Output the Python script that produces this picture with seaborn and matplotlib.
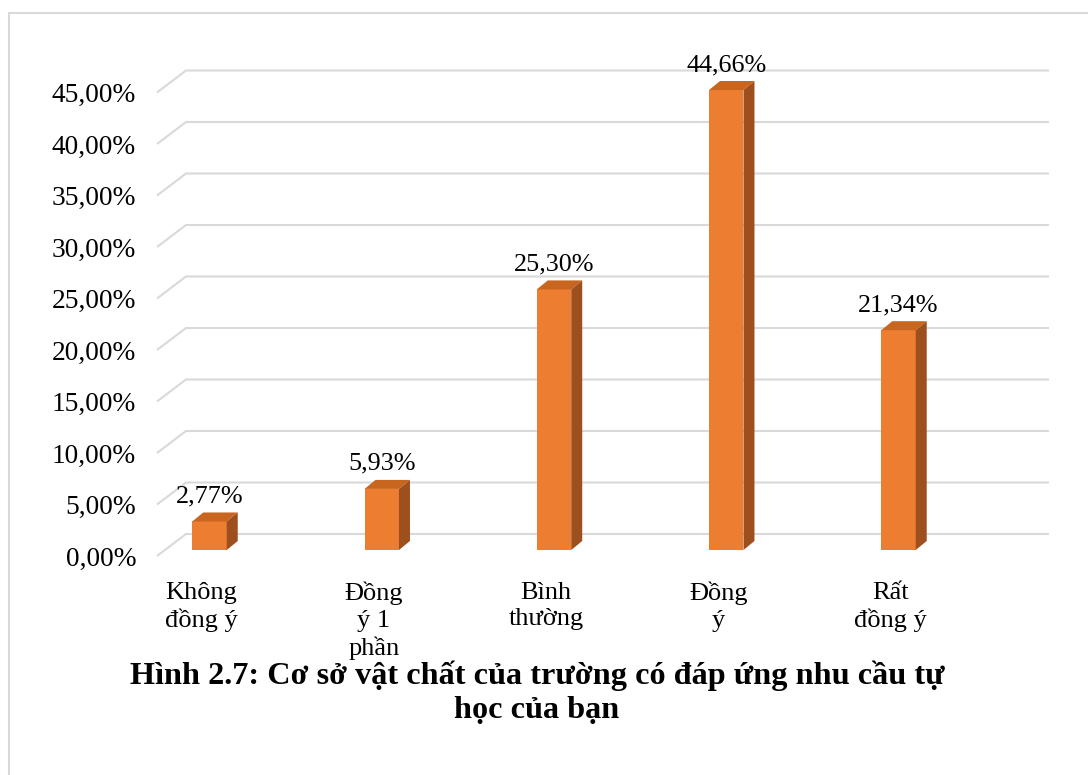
import matplotlib
matplotlib.use("Agg")
import matplotlib.pyplot as plt
import seaborn as sns
import pandas as pd
from matplotlib.patches import Polygon
from matplotlib.lines import Line2D
from matplotlib.transforms import ScaledTranslation

# ---- data ----
categories = ["Không\nđồng ý", "Đồng\ný 1\nphần", "Bình\nthường", "Đồng\ný", "Rất\nđồng ý"]
values = [2.77, 5.93, 25.30, 44.66, 21.34]
value_labels = ["2,77%", "5,93%", "25,30%", "44,66%", "21,34%"]
y_ticks = [0, 5, 10, 15, 20, 25, 30, 35, 40, 45]
y_tick_labels = ["0,00%", "5,00%", "10,00%", "15,00%", "20,00%",
                 "25,00%", "30,00%", "35,00%", "40,00%", "45,00%"]
title = "Hình 2.7: Cơ sở vật chất của trường có đáp ứng nhu cầu tự\nhọc của bạn"

# ---- style ----
sns.set_theme(style="white")
plt.rcParams['font.family'] = ['Liberation Serif', 'DejaVu Serif']

FRONT = "#ED7D31"
TOP = "#C8651F"
SIDE = "#9E4F1E"
GRID = "#D9D9D9"

W, H = 1088, 775
fig = plt.figure(figsize=(W / 100, H / 100), dpi=100)
fig.patch.set_facecolor("white")

# axes = plane of the bars' front faces
ax = fig.add_axes([165 / W, 225 / H, (1049 - 165) / W, (550 - 86.5) / H])
ax.set_facecolor("white")

df = pd.DataFrame({"cat": categories, "val": values})
sns.barplot(data=df, x="cat", y="val", color=FRONT, width=0.2, saturation=1,
            ax=ax, linewidth=0, zorder=3)

x0 = (165 - 209.5) / 172.25
x1 = (1049 - 209.5) / 172.25
ax.set_xlim(x0, x1)
ax.set_ylim(0, 45)
ax.set_xlabel("")
ax.set_ylabel("")
for s in ax.spines.values():
    s.set_visible(False)
ax.grid(False)

px_x = ax.bbox.width / (x1 - x0)
px_y = ax.bbox.height / 45.0

# perspective gridlines (front edge -> back wall)
for t in y_ticks:
    xs = [x0 - 8 / px_x, x0 + 21 / px_x, x1]
    ys = [t - 6 / px_y, t + 16 / px_y, t + 16 / px_y]
    ax.plot(xs, ys, color=GRID, lw=1.5, clip_on=False, zorder=1,
            solid_capstyle="butt", solid_joinstyle="miter")

# 3D faces for bars
bars = list(ax.patches)
ddx, ddy = 11 / px_x, 9 / px_y
for p, lbl in zip(bars, value_labels):
    x, y, w, h = p.get_x(), p.get_y(), p.get_width(), p.get_height()
    top = [(x, y + h), (x + w, y + h), (x + w + ddx, y + h + ddy), (x + ddx, y + h + ddy)]
    side = [(x + w, y), (x + w + ddx, y + ddy), (x + w + ddx, y + h + ddy), (x + w, y + h)]
    ax.add_patch(Polygon(top, closed=True, facecolor=TOP, edgecolor="none",
                         zorder=3, clip_on=False))
    ax.add_patch(Polygon(side, closed=True, facecolor=SIDE, edgecolor="none",
                         zorder=3, clip_on=False))
    ax.annotate(lbl, (x + w / 2, h), xytext=(0, 13.7), textcoords="offset points",
                ha="center", va="baseline", fontsize=18.8, color="black",
                annotation_clip=False, zorder=5)

# ticks
ax.set_xticks(range(len(categories)))
ax.set_xticklabels(categories, fontsize=19, linespacing=1.27)
ax.set_yticks(y_ticks)
ax.set_yticklabels(y_tick_labels, fontsize=19.7)
ax.tick_params(axis="x", length=0, pad=18.5, colors="black")
ax.tick_params(axis="y", length=0, pad=15.1, colors="black")

front_off = ScaledTranslation(-8 / 100, -6 / 100, fig.dpi_scale_trans)
for lab in ax.get_xticklabels() + ax.get_yticklabels():
    lab.set_transform(lab.get_transform() + front_off)

# title (baseline of the last line)
fig.text(537 / W, 1 - 718 / H, title, ha="center", va="baseline",
         fontsize=23.2, fontweight="bold", linespacing=1.24, color="black", zorder=10)

# outer frame lines (left and top)
fig.add_artist(Line2D([9 / W, 9 / W], [0, 1 - 13 / H], color=GRID, lw=1.5))
fig.add_artist(Line2D([9 / W, 1], [1 - 13 / H, 1 - 13 / H], color=GRID, lw=1.5))

fig.savefig("out.png", dpi=100)
